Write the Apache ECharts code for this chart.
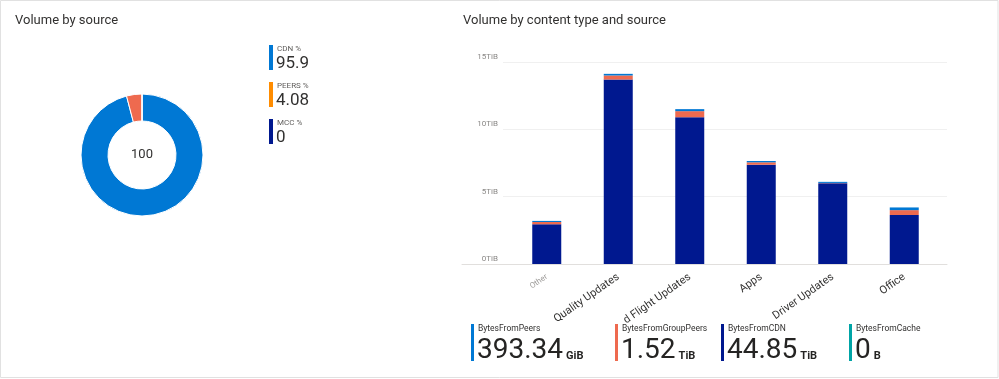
<!DOCTYPE html>
<html><head><meta charset="utf-8">
<script src="https://cdn.jsdelivr.net/npm/echarts@6/dist/echarts.min.js"></script>
<style>html,body{margin:0;padding:0;background:#fff}#c{width:999px;height:379px}</style>
</head><body><div id="c"></div>
<script>
// ---- data ----
const donutNames = ['CDN %', 'PEERS %', 'MCC %'];
const donutValues = [95.9, 4.08, 0];
const donutLegendValues = ['95.9', '4.08', '0'];
const donutCenterLabel = '100';
const categories = ['Other', 'Quality Updates', 'd Flight Updates', 'Apps', 'Driver Updates', 'Office'];
const bytesFromCDN = [2.95, 13.7, 10.9, 7.37, 6.0, 3.64];
const bytesFromGroupPeers = [0.17, 0.3, 0.45, 0.18, 0.02, 0.36];
const bytesFromPeers = [0.08, 0.12, 0.15, 0.1, 0.08, 0.2];
const bytesFromCache = [0, 0, 0, 0, 0, 0];
const yMax = 15, yStep = 5, yUnit = 'TiB';
const kpiNames = ['BytesFromPeers', 'BytesFromGroupPeers', 'BytesFromCDN', 'BytesFromCache'];
const kpiValues = ['393.34', '1.52', '44.85', '0'];
const kpiUnits = ['GiB', 'TiB', 'TiB', 'B'];

// ---- styles ----
const FONT = 'Roboto, "Noto Sans", sans-serif';
const pieColors = ['#0078D4', '#EE6A4F', '#00188F'];
const legendColors = ['#0078D4', '#FF8C00', '#00188F'];
const seriesColors = { cdn: '#00188F', group: '#EE6A4F', peers: '#0078D4', cache: '#00A4A6' };
const kpiColors = ['#0078D4', '#EE6A4F', '#00188F', '#00A4A6'];
const kpiX = [471, 615, 721, 849];

const chart = echarts.init(document.getElementById('c'), null, { renderer: 'canvas' });

const graphics = [];
graphics.push({ type: 'rect', shape: { x: 0.5, y: 0.5, width: 997.5, height: 377 }, style: { fill: 'none', stroke: '#e1e1e1', lineWidth: 1 }, silent: true, z: 0 });
graphics.push({ type: 'text', left: 15, top: 14, style: { text: 'Volume by source', font: '13px ' + FONT, fill: '#323130' } });
graphics.push({ type: 'text', left: 463, top: 14, style: { text: 'Volume by content type and source', font: '13px ' + FONT, fill: '#323130' } });

// donut legend
const legTop = [45, 82, 119];
donutNames.forEach((n, i) => {
  graphics.push({ type: 'rect', shape: { x: 269, y: legTop[i], width: 4, height: 25 }, style: { fill: legendColors[i] } });
  graphics.push({ type: 'text', x: 277, y: legTop[i] + 4, style: { text: n, font: '8px ' + FONT, fill: '#605e5c', textVerticalAlign: 'middle' } });
  graphics.push({ type: 'text', x: 276, y: legTop[i] + 19, style: { text: donutLegendValues[i], font: '17px ' + FONT, fill: '#323130', textVerticalAlign: 'middle' } });
});
graphics.push({ type: 'text', x: 142, y: 155, style: { text: donutCenterLabel, font: '13px ' + FONT, fill: '#323130', textAlign: 'center', textVerticalAlign: 'middle' } });

// KPI cards
kpiNames.forEach((n, i) => {
  const x = kpiX[i];
  graphics.push({ type: 'rect', shape: { x: x, y: 324, width: 3, height: 37 }, style: { fill: kpiColors[i] } });
  graphics.push({ type: 'text', x: x + 7, y: 329, style: { text: n, font: '8.5px ' + FONT, fill: '#323130', textVerticalAlign: 'middle' } });
  const valFont = '28px ' + FONT;
  const w = echarts.format.getTextRect ? echarts.format.getTextRect(kpiValues[i], valFont).width : 0;
  graphics.push({ type: 'text', x: x + 6, y: 365, style: { text: kpiValues[i], font: valFont, fill: '#252423', textVerticalAlign: 'bottom' } });
  graphics.push({ type: 'text', x: x + 6 + w + 3, y: 362, style: { text: kpiUnits[i], font: 'bold 11px ' + FONT, fill: '#252423', textVerticalAlign: 'bottom' } });
});

const catData = categories.map((c, i) => i === 0 ? { value: c, textStyle: { fontSize: 8, color: '#a19f9d' } } : c);

const option = {
  animation: false,
  textStyle: { fontFamily: FONT },
  grid: [
    { left: 503, right: 52, top: 62, bottom: 115 },
    { left: 511, right: 59, top: 62, bottom: 115 },
    { left: 462, right: 52, top: 62, bottom: 115 }
  ],
  xAxis: [
    { gridIndex: 0, type: 'category', data: categories, show: false },
    { gridIndex: 1, type: 'category', data: catData, axisLine: { show: false }, axisTick: { show: false },
      axisLabel: { rotate: 35, margin: 12, fontSize: 11, color: '#323130', interval: 0, hideOverlap: false } },
    { gridIndex: 2, type: 'value', min: 0, max: 1, axisLine: { show: true, lineStyle: { color: '#e1dfdd', width: 1 } }, axisTick: { show: false }, axisLabel: { show: false }, splitLine: { show: false } }
  ],
  yAxis: [
    { gridIndex: 0, type: 'value', min: 0, max: yMax, interval: yStep, axisLine: { show: false }, axisTick: { show: false },
      axisLabel: { formatter: '{value}' + yUnit, fontSize: 8, color: '#8a8886', margin: 5, verticalAlign: 'bottom', lineHeight: 10 },
      splitLine: { lineStyle: { color: '#f0f0f0', width: 1 } } },
    { gridIndex: 1, type: 'value', min: 0, max: yMax, interval: yStep, show: false, splitLine: { show: false } },
    { gridIndex: 2, type: 'value', min: 0, max: 1, show: false, splitLine: { show: false } }
  ],
  series: [
    { type: 'pie', center: [142, 155], radius: [34, 61], startAngle: 90, clockwise: true, label: { show: false }, labelLine: { show: false },
      itemStyle: { borderColor: '#fff', borderWidth: 1 }, silent: true,
      data: donutNames.map((n, i) => ({ name: n, value: donutValues[i], itemStyle: { color: pieColors[i] } })) },
    { name: 'BytesFromCDN', type: 'bar', stack: 'v', xAxisIndex: 1, yAxisIndex: 1, barWidth: 29, data: bytesFromCDN, itemStyle: { color: seriesColors.cdn } },
    { name: 'BytesFromGroupPeers', type: 'bar', stack: 'v', xAxisIndex: 1, yAxisIndex: 1, barWidth: 29, data: bytesFromGroupPeers, itemStyle: { color: seriesColors.group } },
    { name: 'BytesFromPeers', type: 'bar', stack: 'v', xAxisIndex: 1, yAxisIndex: 1, barWidth: 29, data: bytesFromPeers, itemStyle: { color: seriesColors.peers } },
    { name: 'BytesFromCache', type: 'bar', stack: 'v', xAxisIndex: 1, yAxisIndex: 1, barWidth: 29, data: bytesFromCache, itemStyle: { color: seriesColors.cache } }
  ],
  graphic: graphics
};
chart.setOption(option);
</script></body></html>
